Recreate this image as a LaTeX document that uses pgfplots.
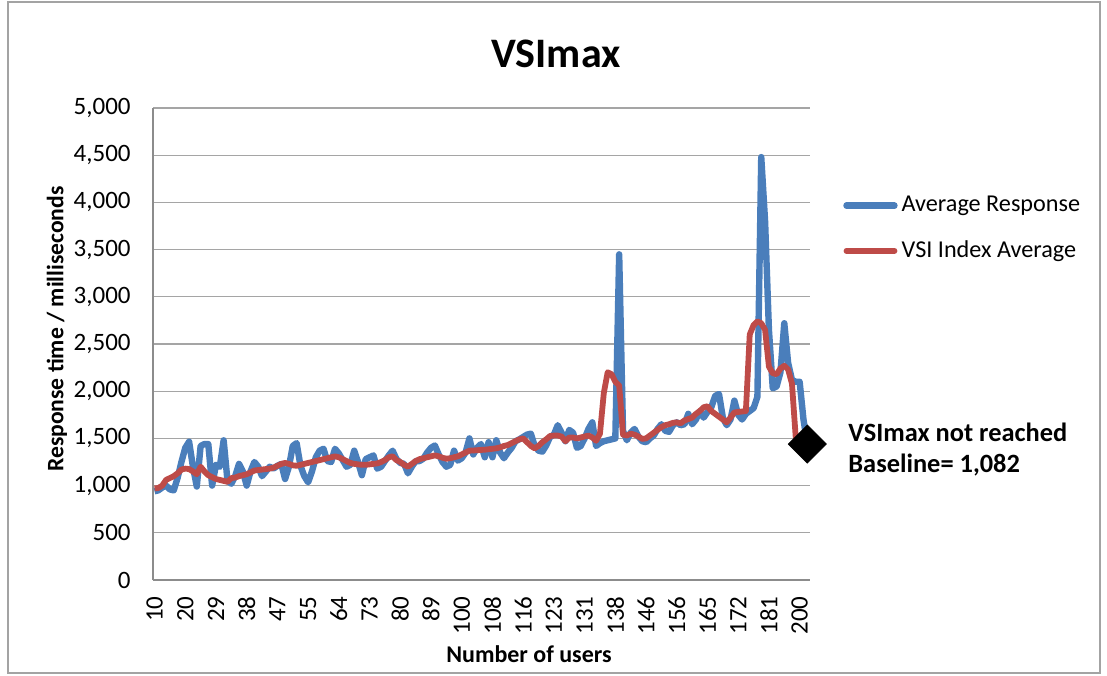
\documentclass[border=0pt]{standalone}
\usepackage{fontspec}
\setmainfont{Carlito}
\usepackage{pgfplots}
\pgfplotsset{compat=1.18}
\usepackage{pgfplotstable}

\definecolor{xblue}{RGB}{74,126,187}
\definecolor{xred}{RGB}{190,75,72}
\definecolor{xgrid}{RGB}{165,165,165}
\definecolor{xaxis}{RGB}{140,140,140}

% index i: data point number (8 points between labelled categories)
\pgfplotstableread{
i v
0 940
1 950
2 980
3 1000
4 960
5 950
6 1080
7 1250
8 1400
9 1465
10 1200
11 990
12 1420
13 1440
14 1440
15 1000
16 1220
17 1200
18 1480
19 1050
20 1020
21 1100
22 1230
23 1150
24 1000
25 1150
26 1250
27 1200
28 1100
29 1150
30 1200
31 1180
32 1210
33 1230
34 1070
35 1200
36 1420
37 1450
38 1210
39 1100
40 1035
41 1150
42 1300
43 1370
44 1390
45 1260
46 1250
47 1390
48 1340
49 1270
50 1200
51 1220
52 1370
53 1250
54 1110
55 1280
56 1300
57 1320
58 1180
59 1200
60 1260
61 1320
62 1370
63 1280
64 1240
65 1230
66 1130
67 1200
68 1260
69 1260
70 1285
71 1350
72 1400
73 1425
74 1330
75 1250
76 1200
77 1220
78 1370
79 1265
80 1290
81 1350
82 1500
83 1330
84 1400
85 1440
86 1300
87 1460
88 1300
89 1480
90 1350
91 1290
92 1350
93 1400
94 1470
95 1490
96 1515
97 1540
98 1550
99 1420
100 1370
101 1360
102 1425
103 1515
104 1540
105 1640
106 1560
107 1470
108 1590
109 1560
110 1400
111 1420
112 1500
113 1600
114 1670
115 1420
116 1450
117 1470
118 1480
119 1490
120 1500
121 3450
122 1580
123 1480
124 1560
125 1600
126 1520
127 1470
128 1460
129 1500
130 1530
131 1600
132 1650
133 1580
134 1570
135 1640
136 1670
137 1640
138 1650
139 1760
140 1650
141 1700
142 1790
143 1720
144 1780
145 1830
146 1950
147 1970
148 1720
149 1640
150 1700
151 1900
152 1750
153 1700
154 1760
155 1790
156 1820
157 1940
158 4480
159 3800
160 2650
161 2030
162 2050
163 2200
164 2720
165 2300
166 2120
167 2100
168 2100
169 1700
170 1440
}\avgresp

\pgfplotstableread{
i v
0 970
1 975
2 1000
3 1060
4 1080
5 1100
6 1130
7 1170
8 1180
9 1175
10 1150
11 1120
12 1200
13 1150
14 1110
15 1090
16 1070
17 1060
18 1050
19 1040
20 1080
21 1085
22 1100
23 1110
24 1120
25 1140
26 1160
27 1165
28 1170
29 1175
30 1180
31 1190
32 1210
33 1230
34 1240
35 1230
36 1215
37 1210
38 1220
39 1230
40 1240
41 1250
42 1260
43 1270
44 1280
45 1290
46 1300
47 1310
48 1300
49 1280
50 1260
51 1240
52 1230
53 1225
54 1220
55 1220
56 1225
57 1230
58 1235
59 1250
60 1270
61 1300
62 1310
63 1270
64 1250
65 1220
66 1200
67 1230
68 1260
69 1280
70 1290
71 1300
72 1310
73 1320
74 1310
75 1295
76 1285
77 1290
78 1300
79 1310
80 1330
81 1350
82 1370
83 1372
84 1375
85 1378
86 1380
87 1385
88 1390
89 1395
90 1405
91 1420
92 1430
93 1450
94 1470
95 1490
96 1500
97 1460
98 1420
99 1395
100 1420
101 1460
102 1490
103 1525
104 1530
105 1530
106 1520
107 1470
108 1510
109 1510
110 1500
111 1510
112 1520
113 1530
114 1510
115 1475
116 1550
117 1980
118 2200
119 2180
120 2100
121 2060
122 1540
123 1530
124 1550
125 1540
126 1520
127 1495
128 1500
129 1530
130 1560
131 1590
132 1620
133 1640
134 1650
135 1665
136 1670
137 1660
138 1690
139 1705
140 1720
141 1760
142 1790
143 1830
144 1840
145 1790
146 1760
147 1730
148 1700
149 1670
150 1720
151 1775
152 1780
153 1785
154 1790
155 2600
156 2700
157 2740
158 2720
159 2650
160 2260
161 2190
162 2180
163 2240
164 2270
165 2230
166 2080
167 1500
}\vsiidx

\pgfplotstableread{
i v
170 1440
}\vsimaxpt

\begin{document}
\begin{tikzpicture}[x=1pt,y=1pt]
\useasboundingbox (0,0) rectangle (553.5,337.5);
\draw[xaxis!80, line width=0.6pt] (4,1) rectangle (550,336.5);
\begin{axis}[
  at={(76.5pt,47.5pt)}, anchor=south west,
  scale only axis, width=328.5pt, height=236pt,
  xmin=-0.4, xmax=170.7, ymin=0, ymax=5000,
  axis x line*=bottom, axis y line*=left,
  axis line style={-, draw=xaxis, line width=0.6pt},
  xtick={0,8,...,168},
  xticklabels={10,20,29,38,47,55,64,73,80,89,100,108,116,123,131,138,146,156,165,172,181,200},
  ytick={0,500,...,5000},
  ymajorgrids, grid style={xgrid, line width=0.6pt},
  major tick length=0pt,
  tick label style={font=\fontsize{12.5}{14}\selectfont},
  xticklabel style={rotate=90, anchor=east, inner sep=0pt},
  xticklabel shift=8pt,
  yticklabel style={inner sep=0pt},
  yticklabel shift=11pt,
  /pgf/number format/1000 sep={,},
  /pgf/number format/assume math mode=true,
  legend style={at={(1.05,0.822)}, anchor=north west, draw=none, fill=none,
    font=\fontsize{12.1}{14}\selectfont, row sep=9pt, inner sep=0pt},
  legend cell align=left,
  legend image code/.code={\draw[#1, line cap=round] (0pt,0pt) -- (24pt,0pt);},
  clip=false,
]
\addplot[xblue, line width=3.2pt, line join=round, mark=none] table[x=i, y=v] {\avgresp};
\addlegendentry{Average Response}
\addplot[xred, line width=2.9pt, line join=round, mark=none] table[x=i, y=v] {\vsiidx};
\addlegendentry{VSI Index Average}
\addplot[forget plot, only marks, mark=square*, mark size=6.7pt, mark options={rotate=45, fill=black, draw=black}] table[x=i, y=v] {\vsimaxpt};
\end{axis}
\node[font=\bfseries\fontsize{21}{24}\selectfont, anchor=base] at (278,303.5) {VSImax};
\node[font=\bfseries\fontsize{11.8}{13}\selectfont, rotate=90, anchor=center] at (28.5,173) {Response time / milliseconds};
\node[font=\bfseries\fontsize{12}{13}\selectfont, anchor=base] at (264.5,6.5) {Number of users};
\node[font=\bfseries\fontsize{13.2}{15}\selectfont, anchor=base west, inner sep=0pt] at (424,117) {VSImax not reached};
\node[font=\bfseries\fontsize{13.2}{15}\selectfont, anchor=base west, inner sep=0pt] at (424,101.5) {Baseline= 1,082};
\end{tikzpicture}
\end{document}
